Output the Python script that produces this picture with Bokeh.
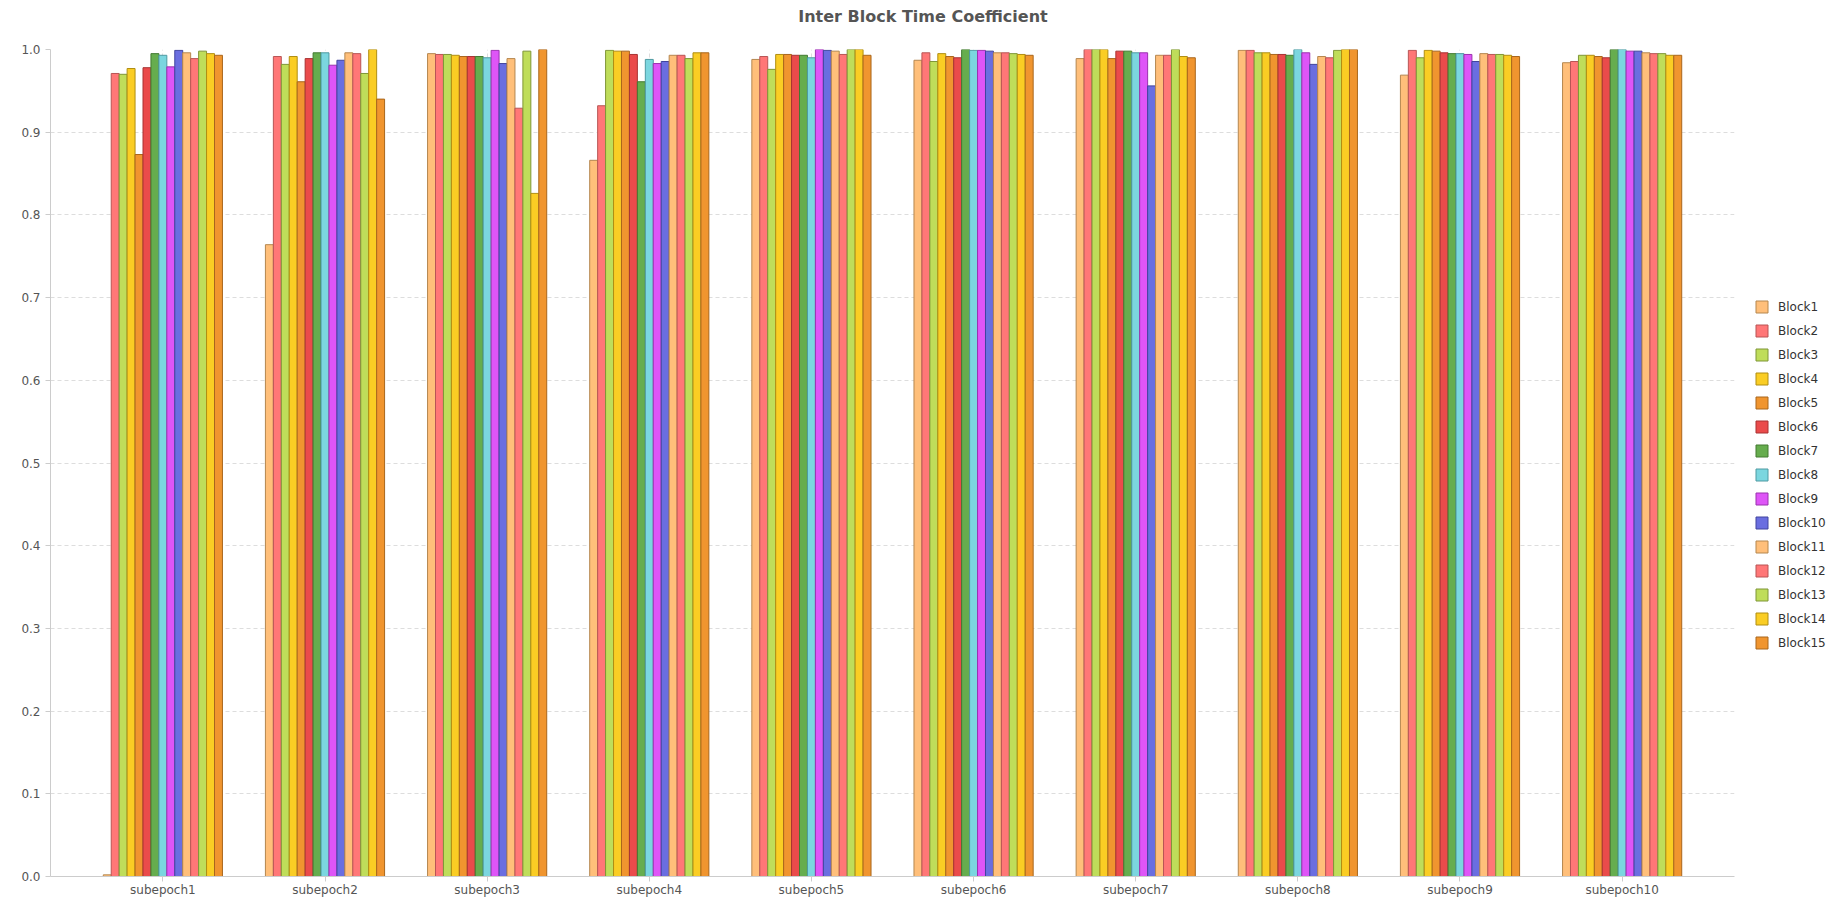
from bokeh.plotting import figure
from bokeh.layouts import column
from bokeh.models import (ColumnDataSource, FactorRange, Range1d, Legend, LegendItem,
                          NumeralTickFormatter, FixedTicker, Div)
from bokeh.transform import dodge
from bokeh.embed import file_html
from bokeh.resources import INLINE

subepochs = ["subepoch1", "subepoch2", "subepoch3", "subepoch4", "subepoch5",
             "subepoch6", "subepoch7", "subepoch8", "subepoch9", "subepoch10"]
blocks = ["Block%d" % i for i in range(1, 16)]

# values per block, one value per subepoch
Block1 = [0.002, 0.764, 0.995, 0.866, 0.988, 0.987, 0.989, 0.999, 0.969, 0.984]
Block2 = [0.971, 0.9915, 0.994, 0.932, 0.9915, 0.996, 1.0, 0.999, 0.999, 0.9855]
Block3 = [0.970, 0.982, 0.994, 0.999, 0.976, 0.9855, 1.0, 0.996, 0.990, 0.993]
Block4 = [0.977, 0.9915, 0.993, 0.998, 0.994, 0.995, 1.0, 0.996, 0.999, 0.993]
Block5 = [0.873, 0.961, 0.9915, 0.998, 0.994, 0.9915, 0.989, 0.994, 0.998, 0.9915]
Block6 = [0.978, 0.989, 0.9915, 0.994, 0.993, 0.990, 0.998, 0.994, 0.996, 0.990]
Block7 = [0.995, 0.996, 0.9915, 0.961, 0.993, 1.0, 0.998, 0.993, 0.995, 1.0]
Block8 = [0.993, 0.996, 0.990, 0.988, 0.990, 0.999, 0.996, 1.0, 0.995, 1.0]
Block9 = [0.979, 0.981, 0.999, 0.983, 1.0, 0.999, 0.996, 0.996, 0.994, 0.998]
Block10 = [0.999, 0.987, 0.983, 0.9855, 0.999, 0.998, 0.956, 0.982, 0.9855, 0.998]
Block11 = [0.996, 0.996, 0.989, 0.993, 0.998, 0.996, 0.993, 0.9915, 0.995, 0.996]
Block12 = [0.989, 0.995, 0.929, 0.993, 0.994, 0.996, 0.993, 0.990, 0.994, 0.995]
Block13 = [0.998, 0.971, 0.998, 0.989, 1.0, 0.995, 1.0, 0.999, 0.994, 0.995]
Block14 = [0.995, 1.0, 0.826, 0.996, 1.0, 0.994, 0.9915, 1.0, 0.993, 0.993]
Block15 = [0.993, 0.940, 1.0, 0.996, 0.993, 0.993, 0.990, 1.0, 0.9915, 0.993]

series = [Block1, Block2, Block3, Block4, Block5, Block6, Block7, Block8,
          Block9, Block10, Block11, Block12, Block13, Block14, Block15]

base_fill = ["#FFBF7A", "#FF7777", "#BFDD5A", "#FACD24", "#F0952F",
             "#EA4B4B", "#66AD4E", "#7BD6DF", "#DE55F7", "#6A6EE0"]
base_line = ["#B5874F", "#B85555", "#7F9637", "#B08E12", "#A9661C",
             "#A83333", "#437A31", "#4E9AA2", "#9A32AE", "#40449E"]
fill_colors = base_fill + base_fill[:5]
line_colors = base_line + base_line[:5]

data = {"subepoch": subepochs}
for b, vals in zip(blocks, series):
    data[b] = vals
source = ColumnDataSource(data)

title_div = Div(text="Inter Block Time Coefficient", width=1846, height=33,
                margin=(0, 0, 0, 0),
                styles={"text-align": "center", "font-family": "DejaVu Sans",
                        "font-size": "16px", "font-weight": "bold", "color": "#555555",
                        "line-height": "33px", "width": "1846px"})

p = figure(x_range=FactorRange(*subepochs, range_padding=0.0386),
           y_range=Range1d(0, 1.0),
           frame_width=1684, frame_height=827,
           output_backend="svg", toolbar_location=None,
           min_border_left=50, min_border_top=16, min_border_bottom=42,
           min_border_right=112, margin=(0, 0, 0, 0))

bar_w = 0.049
items = []
for i, b in enumerate(blocks):
    off = (i - 7) * bar_w
    r = p.vbar(x=dodge("subepoch", off, range=p.x_range), top=b, width=bar_w,
               source=source, fill_color=fill_colors[i], line_color=line_colors[i],
               line_width=1)
    items.append(LegendItem(label=b, renderers=[r]))

legend = Legend(items=items, location=(20, 226), ncols=1)
legend.label_text_font = "DejaVu Sans"
legend.label_text_font_size = "12px"
legend.label_text_color = "#333333"
legend.glyph_width = 15
legend.glyph_height = 15
legend.label_height = 15
legend.label_width = 48
legend.spacing = 9
legend.label_standoff = 9
legend.margin = 0
legend.padding = 0
legend.border_line_color = None
legend.background_fill_alpha = 0
p.add_layout(legend, "right")

p.yaxis.ticker = FixedTicker(ticks=[0.0, 0.1, 0.2, 0.3, 0.4, 0.5, 0.6, 0.7, 0.8, 0.9, 1.0])
p.yaxis.formatter = NumeralTickFormatter(format="0.0")
for ax in (p.xaxis, p.yaxis):
    ax.axis_line_color = "#cccccc"
    ax.major_tick_line_color = "#cccccc"
    ax.minor_tick_line_color = None
    ax.major_label_text_font = "DejaVu Sans"
    ax.major_label_text_font_size = "12px"
    ax.major_label_text_color = "#555555"
    ax.major_tick_out = 5
    ax.major_tick_in = 0
p.xaxis.major_label_standoff = 1

p.xgrid.grid_line_color = "#dddddd"
p.xgrid.grid_line_dash = "4 3"
p.ygrid.grid_line_color = "#dddddd"
p.ygrid.grid_line_dash = "4 3"
p.outline_line_color = None

layout = column(title_div, p, spacing=0, margin=(0, 0, 0, 0))
open("out.html", "w").write(file_html(layout, INLINE))
